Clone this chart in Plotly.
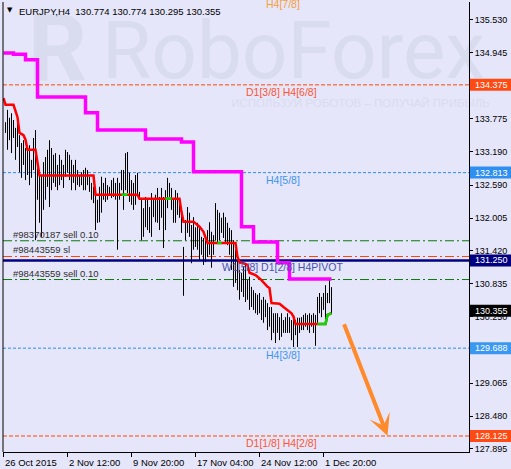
import plotly.graph_objects as go

# ---------------------------------------------------------------- data
title_text = "EURJPY,H4  130.774 130.774 130.295 130.355"

# H4 bars (high / low), bar index 1..164
bar_high = [
    133.71, 133.93, 133.79, 133.87, 133.75, 133.61, 133.84, 133.48, 133.34, 133.39,
    133.25, 133.22, 133.30, 133.04, 133.43, 133.57, 133.04, 132.86, 132.77, 133.00,
    133.09, 133.22, 133.39, 133.25, 133.13, 133.16, 132.95, 133.13, 133.04, 132.95,
    133.22, 133.18, 133.13, 133.04, 132.95, 133.04, 132.86, 132.77, 132.82, 132.86,
    132.90, 132.86, 132.74, 132.63, 132.56, 132.50, 132.33, 132.56, 132.74, 132.63,
    132.72, 132.59, 132.56, 132.68, 132.72, 132.63, 132.72, 132.63, 132.86, 132.86,
    133.16, 133.18, 132.81, 132.68, 132.63, 132.77, 132.81, 132.47, 132.33, 132.18,
    132.38, 132.33, 132.20, 132.45, 132.33, 132.42, 132.54, 132.38, 132.54, 132.38,
    132.50, 132.72, 132.63, 132.54, 132.36, 132.50, 132.45, 132.33, 132.20, 131.49,
    131.97, 132.20, 132.10, 131.88, 132.02, 131.84, 131.92, 131.84, 131.67, 131.65,
    131.61, 131.79, 131.93, 131.76, 131.70, 132.27, 132.15, 132.10, 132.01, 132.10,
    132.02, 131.92, 131.83, 131.79, 131.61, 131.44, 131.31, 131.08, 131.03, 131.13,
    131.20, 130.90, 130.96, 130.78, 130.72, 130.67, 130.64, 130.67, 130.55, 130.60,
    130.55, 130.49, 130.42, 130.42, 130.31, 130.31, 130.31, 130.24, 130.31, 130.19,
    130.24, 130.31, 130.24, 130.19, 130.24, 130.19, 130.23, 130.23, 130.24, 130.28,
    130.31, 130.28, 130.31, 130.28, 130.31, 130.28, 130.60, 130.67, 130.60, 130.67,
    130.81, 130.67, 130.92, 130.774,
]
bar_low = [
    133.52, 133.22, 133.39, 133.16, 133.43, 133.04, 133.27, 132.82, 132.72, 132.95,
    132.68, 132.77, 132.59, 132.72, 132.86, 131.61, 132.33, 131.92, 131.67, 132.15,
    132.33, 132.56, 132.20, 132.50, 132.63, 132.56, 132.50, 132.59, 132.68, 132.54,
    132.74, 132.81, 132.68, 132.50, 132.63, 132.50, 132.59, 132.56, 132.59, 132.50,
    132.50, 132.59, 132.47, 132.33, 132.27, 131.79, 131.92, 131.93, 132.10, 132.33,
    132.29, 132.33, 132.42, 132.36, 132.38, 132.33, 131.44, 132.33, 132.50, 132.15,
    132.50, 132.45, 132.29, 132.24, 132.15, 132.24, 132.42, 132.33, 131.61, 131.67,
    131.84, 131.79, 131.74, 131.67, 132.02, 131.93, 131.92, 131.79, 132.01, 131.47,
    131.79, 132.18, 132.38, 132.15, 131.92, 131.92, 132.06, 132.01, 131.74, 130.62,
    131.61, 131.74, 131.67, 131.20, 131.44, 131.49, 131.44, 131.26, 131.35, 131.17,
    131.22, 131.31, 131.35, 131.12, 131.35, 131.61, 131.56, 131.61, 131.74, 131.65,
    131.58, 131.52, 131.35, 131.08, 130.78, 130.85, 130.72, 130.55, 130.69, 130.60,
    130.51, 130.55, 130.37, 130.42, 130.37, 130.31, 130.28, 130.31, 130.19, 130.14,
    130.24, 130.01, 130.07, 129.83, 129.96, 129.78, 129.96, 129.83, 129.89, 129.96,
    129.96, 129.96, 129.96, 129.83, 129.71, 129.92, 129.71, 129.96, 130.01, 130.01,
    130.07, 130.01, 129.96, 130.07, 129.96, 129.73, 130.14, 130.31, 130.24, 130.37,
    130.19, 130.49, 130.49, 130.295,
]
bar_idx = list(range(1, len(bar_high) + 1))

# trend line (red, green where rising)
trend_idx = [0, 1, 5, 6, 7, 8, 10, 11, 12, 16, 17, 18, 45, 46, 59, 62, 67, 68, 81, 84,
             88, 89, 90, 95, 97, 98, 100, 101, 102, 107, 109, 116, 117, 118, 120, 122,
             123, 126, 127, 129, 132, 133, 134, 138, 140, 142, 144, 145, 146, 157, 161,
             162, 164]
trend_val = [134.14, 134.02, 134.02, 133.90, 133.80, 133.52, 133.48, 133.40, 133.22, 133.22,
             133.00, 132.76, 132.76, 132.42, 132.42, 132.42, 132.42, 132.35, 132.35, 132.35,
             132.35, 132.11, 131.94, 131.94, 131.88, 131.85, 131.76, 131.67, 131.56, 131.56,
             131.56, 131.56, 131.31, 131.22, 131.20, 131.17, 131.03, 130.99, 130.96, 130.90,
             130.78, 130.76, 130.49, 130.48, 130.42, 130.37, 130.31, 130.25, 130.12, 130.12,
             130.12, 130.28, 130.31]
up_segments = [(59, 62), (81, 84), (107, 109), (157, 164)]

# magenta step line
step_idx = [0, 5, 11, 17, 41, 47, 71, 89, 95, 119, 125, 137, 143, 164]
step_val = [134.94, 134.92, 134.82, 134.16, 133.88, 133.57, 133.41, 133.36, 132.83,
            131.85, 131.58, 131.21, 130.92, 130.92]

# Murrey levels
level_price = [135.938, 134.375, 132.813, 131.250, 129.688, 128.125]
level_label = ["H4[7/8]", "D1[3/8] H4[6/8]", "H4[5/8]", "W1[5/8] D1[2/8] H4PIVOT",
               "H4[3/8]", "D1[1/8] H4[2/8]"]
level_label_bar = [130, 120, 130, 108, 130, 120]
level_color = ["#FFA030", "#FF4500", "#2B8CF0", "#000080", "#2B8CF0", "#FF4500"]
level_text_color = ["#F5A03A", "#FF5533", "#3D95EE", "#4650B0", "#3D95EE", "#FF5533"]

# open orders
trade_price = [131.60, 131.32, 130.91]
trade_label = ["#98370187 sell 0.10", "#98443559 sl", "#98443559 sell 0.10"]
trade_color = ["#0A7A0A", "#FF4500", "#0A7A0A"]

last_close = 130.355

# right-axis price tags
tag_price = [134.375, 132.813, 131.250, 130.355, 129.688, 128.125]
tag_color = ["#FF4A14", "#2F8FF0", "#000080", "#000000", "#3A98F0", "#FF4A14"]

price_ticks = [135.530, 134.945, 134.360, 133.775, 133.190, 132.590, 132.005, 131.420,
               130.835, 130.250, 129.665, 129.065, 128.480, 127.895]

time_tick_idx = [0, 32, 64, 96, 128, 160]
time_tick_text = ["26 Oct 2015", "2 Nov 12:00", "9 Nov 20:00", "17 Nov 04:00",
                  "24 Nov 12:00", "1 Dec 20:00"]

arrow_from = (170, 130.14)
arrow_to = (192, 128.13)

X_MIN, X_MAX = -0.25, 232.75
Y_MIN, Y_MAX = 127.84, 135.85
PLOT_H = 450
BG = "#E6E6FA"
WM = "#D9DBEF"
FONT = "Liberation Sans, Arial, sans-serif"

# ---------------------------------------------------------------- figure
fig = go.Figure()

# watermark (drawn first so everything sits on top)
fig.add_trace(go.Scatter(x=[27], y=[134.87], mode="text", text=["<b>R</b>"],
                         textfont=dict(family="Roboto", size=92, color=WM),
                         cliponaxis=False, hoverinfo="skip"))
fig.add_trace(go.Scatter(x=[145], y=[134.86], mode="text", text=["RoboForex"],
                         textfont=dict(family="Roboto", size=80, color=WM),
                         cliponaxis=False, hoverinfo="skip"))
fig.add_trace(go.Scatter(x=[178.5], y=[134.03], mode="text",
                         text=["ИСПОЛЬЗУЙ РОБОТОВ – ПОЛУЧАЙ ПРИБЫЛЬ"],
                         textfont=dict(family=FONT, size=11.5, color=WM),
                         cliponaxis=False, hoverinfo="skip"))

# Murrey level lines (dashed), pivot drawn later
for p, c in zip(level_price, level_color):
    if p == 131.250:
        continue
    dash = "4px,2px" if c == "#FF4500" else "3px,2px"
    fig.add_trace(go.Scatter(x=[X_MIN, X_MAX], y=[p, p], mode="lines",
                             line=dict(color=c, width=1, dash=dash), hoverinfo="skip"))

# order lines
for p, c in zip(trade_price, trade_color):
    fig.add_trace(go.Scatter(x=[X_MIN, X_MAX], y=[p, p], mode="lines",
                             line=dict(color=c, width=1, dash="9px,3px,2px,3px"),
                             hoverinfo="skip"))

# bars
bx, by = [], []
for i, h, l in zip(bar_idx, bar_high, bar_low):
    bx += [i, i, None]
    by += [l, h, None]
fig.add_trace(go.Scatter(x=bx, y=by, mode="lines", line=dict(color="black", width=1),
                         hoverinfo="skip"))

# pivot line
fig.add_trace(go.Scatter(x=[X_MIN, X_MAX], y=[131.250, 131.250], mode="lines",
                         line=dict(color="#000080", width=2.5), hoverinfo="skip"))

# red trend line + green pieces
fig.add_trace(go.Scatter(x=trend_idx, y=trend_val, mode="lines",
                         line=dict(color="#FF0000", width=2.5), hoverinfo="skip"))
for a, b in up_segments:
    sx = [i for i in trend_idx if a <= i <= b]
    sy = [v for i, v in zip(trend_idx, trend_val) if a <= i <= b]
    fig.add_trace(go.Scatter(x=sx, y=sy, mode="lines",
                             line=dict(color="#00E000", width=2.5), hoverinfo="skip"))

# magenta step line
fig.add_trace(go.Scatter(x=step_idx, y=step_val, mode="lines", line_shape="hv",
                         line=dict(color="#FF00FF", width=3.5), hoverinfo="skip"))

# level labels (a level above the visible range is pinned to the top edge
# and shifted by its pixel distance, so its label is cut like in MT4)
px_per_unit = PLOT_H / (Y_MAX - Y_MIN)
for p, t, b, c in zip(level_price, level_label, level_label_bar, level_text_color):
    y_pos = min(p, Y_MAX)
    shift = 1 + (p - y_pos) * px_per_unit
    fig.add_annotation(x=b, y=y_pos, xref="x", yref="y", text=t, showarrow=False,
                       xanchor="left", yanchor="top", yshift=shift,
                       font=dict(family=FONT, size=10.5, color=c))

# order labels
for p, t in zip(trade_price, trade_label):
    fig.add_annotation(x=3.5, y=p, xref="x", yref="y", text=t, showarrow=False,
                       xanchor="left", yanchor="bottom", yshift=-1,
                       font=dict(family=FONT, size=9.5, color="#2E2E2E"))

# forecast arrow
fig.add_annotation(x=arrow_to[0], y=arrow_to[1], ax=arrow_from[0], ay=arrow_from[1],
                   xref="x", yref="y", axref="x", ayref="y", text="",
                   showarrow=True, arrowhead=3, arrowsize=0.9, arrowwidth=4,
                   arrowcolor="#FF8A2B", standoff=0)

# price tags on the right axis
for p, c in zip(tag_price, tag_color):
    fig.add_shape(type="rect", xref="paper", yref="y", x0=1.002, x1=1.1,
                  ysizemode="pixel", yanchor=p, y0=-6, y1=6,
                  fillcolor=c, line_width=0, layer="above")
    fig.add_annotation(x=1, y=p, xref="paper", yref="y", text=f"{p:.3f}",
                       showarrow=False, xanchor="left", xshift=4,
                       font=dict(family=FONT, size=9, color="white"))

# time labels, left aligned at their ticks
for i, t in zip(time_tick_idx, time_tick_text):
    fig.add_annotation(x=i, y=0, xref="x", yref="paper", text=t, showarrow=False,
                       xanchor="left", yanchor="top", xshift=-1, yshift=-3,
                       font=dict(family=FONT, size=9.5, color="black"))

# header
fig.add_annotation(x=0.005, y=0.982, xref="paper", yref="paper", text="▼",
                   showarrow=False, xanchor="left", yanchor="middle",
                   font=dict(family="DejaVu Sans", size=7, color="black"))
fig.add_annotation(x=0.031, y=0.98, xref="paper", yref="paper", text=title_text,
                   showarrow=False, xanchor="left", yanchor="middle",
                   font=dict(family=FONT, size=9.5, color="black"))

# left border
fig.add_shape(type="line", xref="paper", yref="paper", x0=0, x1=0, y0=0, y1=1,
              line=dict(color="black", width=1))

fig.update_layout(
    width=511, height=469,
    margin=dict(l=3, r=42, t=2, b=17),
    paper_bgcolor=BG, plot_bgcolor=BG,
    showlegend=False,
    xaxis=dict(range=[X_MIN, X_MAX], showgrid=False, zeroline=False, showline=True,
               linecolor="black", linewidth=1, ticks="outside", ticklen=4,
               tickcolor="black", tickvals=time_tick_idx, showticklabels=False),
    yaxis=dict(range=[Y_MIN, Y_MAX], side="right", showgrid=False, zeroline=False,
               showline=True, linecolor="black", linewidth=1, ticks="outside",
               ticklen=3, tickcolor="black", tickvals=price_ticks,
               ticktext=[f"{v:.3f}" for v in price_ticks],
               tickfont=dict(family=FONT, size=9, color="black")),
)

fig.write_html("out.html", config={"displayModeBar": False},
               post_script="document.body.style.margin='0';"
                           "document.body.style.background='" + BG + "';")
